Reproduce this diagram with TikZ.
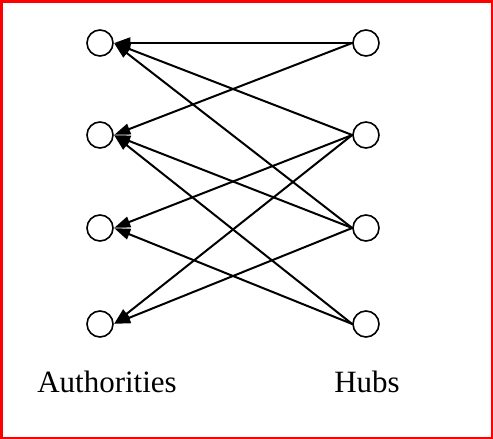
\documentclass[tikz,border=0pt]{standalone}
\usepackage{fontspec}
\setmainfont{Liberation Serif}
\usetikzlibrary{arrows.meta}

\begin{document}
\begin{tikzpicture}[x=1pt,y=-1pt,line cap=round,
  vertex/.style={draw,circle,minimum size=26pt,inner sep=0pt,line width=1.6pt},
  link/.style={-{Triangle[length=16pt,width=11pt]},line width=2pt,shorten >=0.5pt},
  caption/.style={anchor=base,font=\fontsize{31}{36}\selectfont}]
\useasboundingbox (0,0) rectangle (493,439);
\draw[red,line width=2.5pt] (1.25,1.25) rectangle (491.75,437.75);
% authorities
\node[vertex] (a1) at (100,43) {};
\node[vertex] (a2) at (100,135) {};
\node[vertex] (a3) at (100,228) {};
\node[vertex] (a4) at (100,324) {};
% hubs
\node[vertex] (h1) at (366,43) {};
\node[vertex] (h2) at (366,135) {};
\node[vertex] (h3) at (366,228) {};
\node[vertex] (h4) at (366,324) {};
% links
\draw[link] (h1.west) -- (a1.east);
\draw[link] (h1.west) -- (a2.east);
\draw[link] (h2.west) -- (a1.east);
\draw[link] (h2.west) -- (a3.east);
\draw[link] (h2.west) -- (a4.east);
\draw[link] (h3.west) -- (a1.east);
\draw[link] (h3.west) -- (a2.east);
\draw[link] (h3.west) -- (a4.east);
\draw[link] (h4.west) -- (a2.east);
\draw[link] (h4.west) -- (a3.east);
% labels
\node[caption] (auth) at (107,392) {Authorities};
\node[caption] (hubs) at (367,392) {Hubs};
\end{tikzpicture}
\end{document}
